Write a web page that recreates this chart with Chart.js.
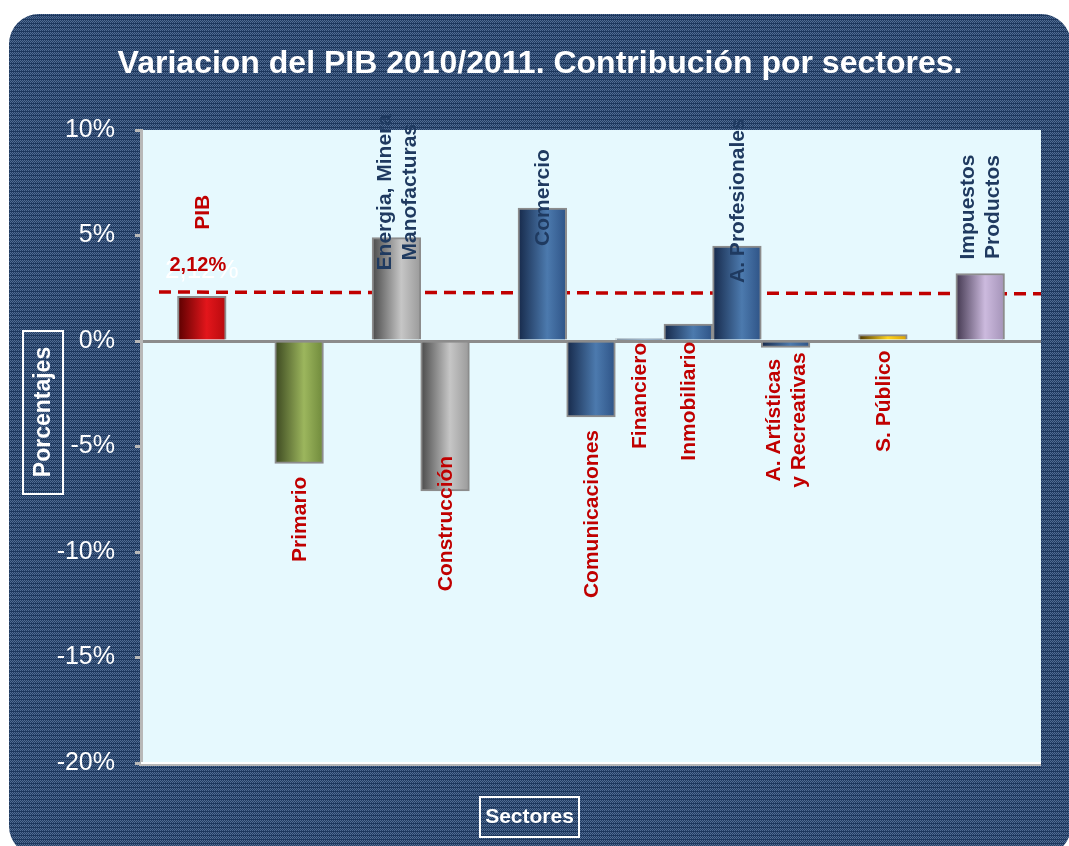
<!DOCTYPE html>
<html>
<head>
<meta charset="utf-8">
<script src="https://cdn.jsdelivr.net/npm/chart.js@4.4.1/dist/chart.umd.min.js"></script>
<style>
  html, body { margin: 0; padding: 0; background: #fff; }
  #wrap { width: 1069px; height: 846px; }
</style>
</head>
<body>
<div id="wrap"><canvas id="pib" width="1069" height="846"></canvas></div>
<script>
// datos (% de variacion, huecos = null)
const sectores = ['PIB', '', 'Primario', '', 'Energia, Minera\nManofacturas', 'Construcción', '',
  'Comercio', 'Comunicaciones', 'Financiero', 'Inmobiliario', 'A. Profesionales',
  'A. Artísticas\ny Recreativas', '', 'S. Público', '', 'Impuestos\nProductos'];
const variacion = [2.12, null, -5.8, null, 4.9, -7.1, null, 6.3, -3.6, 0.1, 0.8, 4.5, -0.3, null, 0.3, null, 3.2];
const lineaPib = [2.32, 2.24];
const etiquetaPib = '2,12%';
const yTicks = [-20, -15, -10, -5, 0, 5, 10];

// estilo
const paletas = {
  rojo:  ['#5a0000', '#e3161b', '#b70a0e'],
  oliva: ['#3b4720', '#9cb65d', '#6f893b'],
  gris:  ['#4a4a4a', '#c6c6c6', '#9a9a9a'],
  azul:  ['#16294a', '#4c7aae', '#2e5386'],
  oro:   ['#4a3400', '#ffd31c', '#d9a000'],
  lila:  ['#42374f', '#ccbade', '#a493b8']
};
const colorBarra = ['rojo', null, 'oliva', null, 'gris', 'gris', null, 'azul', 'azul', 'azul', 'azul', 'azul', 'azul', null, 'oro', null, 'lila'];
// centro vertical de cada etiqueta girada, en unidades del eje y
const etiquetaY = [6.1, null, -8.45, null, 7.05, -8.65, null, 6.8, -8.2, -2.6, -2.85, 6.65, -3.75, null, -2.85, null, 6.35];
const etiquetaRoja = [true, null, true, null, false, true, null, false, true, true, true, false, true, null, true, null, false];

const xMin = -1.25, xMax = 17.25;
const FONT = "'Liberation Sans', Arial, sans-serif";

function makePattern(ctx) {
  const t = document.createElement('canvas');
  t.width = 4; t.height = 4;
  const c = t.getContext('2d');
  c.fillStyle = '#223d63';
  c.fillRect(0, 0, 4, 4);
  c.fillStyle = '#516c93';
  for (let y = 0; y < 3; y++) {
    for (let x = 0; x < 4; x++) {
      if ((x + y) % 2 === 0) c.fillRect(x, y, 1, 1);
    }
  }
  c.fillStyle = '#1d375d';
  c.fillRect(0, 3, 4, 1);
  return ctx.createPattern(t, 'repeat');
}

function roundRect(ctx, x, y, w, h, r) {
  ctx.beginPath();
  ctx.moveTo(x + r, y);
  ctx.lineTo(x + w - r, y);
  ctx.arcTo(x + w, y, x + w, y + r, r);
  ctx.lineTo(x + w, y + h - r);
  ctx.arcTo(x + w, y + h, x + w - r, y + h, r);
  ctx.lineTo(x + r, y + h);
  ctx.arcTo(x, y + h, x, y + h - r, r);
  ctx.lineTo(x, y + r);
  ctx.arcTo(x, y, x + r, y, r);
  ctx.closePath();
}

const fondo = {
  id: 'fondo',
  beforeDraw(chart) {
    const ctx = chart.ctx, a = chart.chartArea;
    ctx.save();
    ctx.fillStyle = '#fff';
    ctx.fillRect(0, 0, chart.width, chart.height);
    roundRect(ctx, 9, 14, 1062, 842, 30);
    ctx.fillStyle = makePattern(ctx);
    ctx.fill();
    ctx.fillStyle = '#e6f9fe';
    ctx.fillRect(a.left, a.top, a.right - a.left, a.bottom - a.top);
    ctx.restore();
  },
  afterDraw(chart) {
    const ctx = chart.ctx, a = chart.chartArea;
    ctx.save();
    // borde inferior del area
    ctx.fillStyle = '#ffffff';
    ctx.fillRect(a.left, a.bottom - 1, a.right - a.left, 2);
    ctx.fillStyle = '#b8b8b8';
    ctx.fillRect(a.left - 2, a.bottom + 1, a.right - a.left + 2, 2);

    ctx.fillStyle = '#fff';
    ctx.textAlign = 'center';
    ctx.textBaseline = 'alphabetic';
    ctx.font = 'bold 32px ' + FONT;
    ctx.fillText('Variacion del PIB 2010/2011. Contribución por sectores.', 540, 73);

    // titulo eje y
    ctx.strokeStyle = '#fff';
    ctx.lineWidth = 2;
    ctx.strokeRect(23, 331, 40, 163);
    ctx.save();
    ctx.translate(43, 412);
    ctx.rotate(-Math.PI / 2);
    ctx.textBaseline = 'middle';
    ctx.font = 'bold 23px ' + FONT;
    ctx.fillText('Porcentajes', 0, 1);
    ctx.restore();

    // titulo eje x
    ctx.strokeRect(480, 797, 99, 40);
    ctx.textBaseline = 'middle';
    ctx.font = 'bold 21px ' + FONT;
    ctx.fillText('Sectores', 529.5, 817);
    ctx.restore();
  }
};

const etiquetas = {
  id: 'etiquetas',
  afterDatasetsDraw(chart) {
    const ctx = chart.ctx, xs = chart.scales.x, ys = chart.scales.y;
    ctx.save();
    ctx.font = 'bold 21px ' + FONT;
    ctx.textAlign = 'center';
    ctx.textBaseline = 'middle';
    sectores.forEach((s, i) => {
      if (!s) return;
      const lineas = s.split('\n');
      const cx = xs.getPixelForValue(i);
      const cy = ys.getPixelForValue(etiquetaY[i]);
      ctx.fillStyle = etiquetaRoja[i] ? '#c00000' : '#1f3a60';
      lineas.forEach((l, k) => {
        const off = (k - (lineas.length - 1) / 2) * 25;
        ctx.save();
        ctx.translate(cx + off, cy);
        ctx.rotate(-Math.PI / 2);
        ctx.fillText(l, 0, 1);
        ctx.restore();
      });
    });
    // valor del PIB
    const px = xs.getPixelForValue(0);
    const py = ys.getPixelForValue(variacion[0]);
    ctx.textBaseline = 'alphabetic';
    ctx.font = '26px ' + FONT;
    ctx.fillStyle = '#ffffff';
    ctx.fillText(etiquetaPib, px, py - 18);
    ctx.font = 'bold 20px ' + FONT;
    ctx.fillStyle = '#c00000';
    ctx.fillText(etiquetaPib, px - 4, py - 25);
    ctx.restore();
  }
};

const puntos = variacion.map((v, i) => v === null ? null : { x: i, y: v }).filter(Boolean);

new Chart(document.getElementById('pib'), {
  data: {
    datasets: [{
      type: 'bar',
      data: puntos,
      barPercentage: 1,
      categoryPercentage: 1,
      borderColor: '#8c8c8c',
      borderWidth: 2,
      backgroundColor: ctx => {
        const c = ctx.chart, r = ctx.raw;
        if (!r || !c.chartArea) return '#888';
        const xs = c.scales.x;
        const cx = xs.getPixelForValue(r.x);
        const half = (xs.getPixelForValue(1) - xs.getPixelForValue(0)) / 2;
        const p = paletas[colorBarra[r.x]];
        const g = c.ctx.createLinearGradient(cx - half, 0, cx + half, 0);
        g.addColorStop(0, p[0]);
        g.addColorStop(0.6, p[1]);
        g.addColorStop(1, p[2]);
        return g;
      }
    }, {
      type: 'line',
      data: [{ x: xMin + 0.37, y: lineaPib[0] }, { x: xMax, y: lineaPib[1] }],
      borderColor: '#c00000',
      borderWidth: 3.5,
      borderDash: [12, 7],
      pointRadius: 0,
      fill: false
    }]
  },
  options: {
    responsive: false,
    animation: false,
    layout: { padding: { left: 0, top: 130, right: 28, bottom: 83 } },
    plugins: { legend: { display: false }, tooltip: { enabled: false }, title: { display: false } },
    scales: {
      x: {
        type: 'linear',
        display: false,
        offset: false,
        min: xMin,
        max: xMax,
        grid: { offset: false },
        afterBuildTicks: s => { s.ticks = sectores.map((c, i) => ({ value: i })); }
      },
      y: {
        min: -20,
        max: 10,
        afterFit: s => { s.width = 141; },
        afterBuildTicks: s => { s.ticks = yTicks.map(v => ({ value: v })); },
        ticks: {
          color: '#ffffff',
          font: { family: FONT, size: 25 },
          padding: 20,
          callback: v => v + '%'
        },
        grid: {
          color: c => c.tick && c.tick.value === 0 ? '#8c8c8c' : 'rgba(0,0,0,0)',
          lineWidth: 3,
          tickColor: '#b8b8b8',
          tickLength: 6,
          tickWidth: 3
        },
        border: { display: true, color: '#b8b8b8', width: 3 }
      }
    }
  },
  plugins: [fondo, etiquetas]
});
</script>
</body>
</html>
